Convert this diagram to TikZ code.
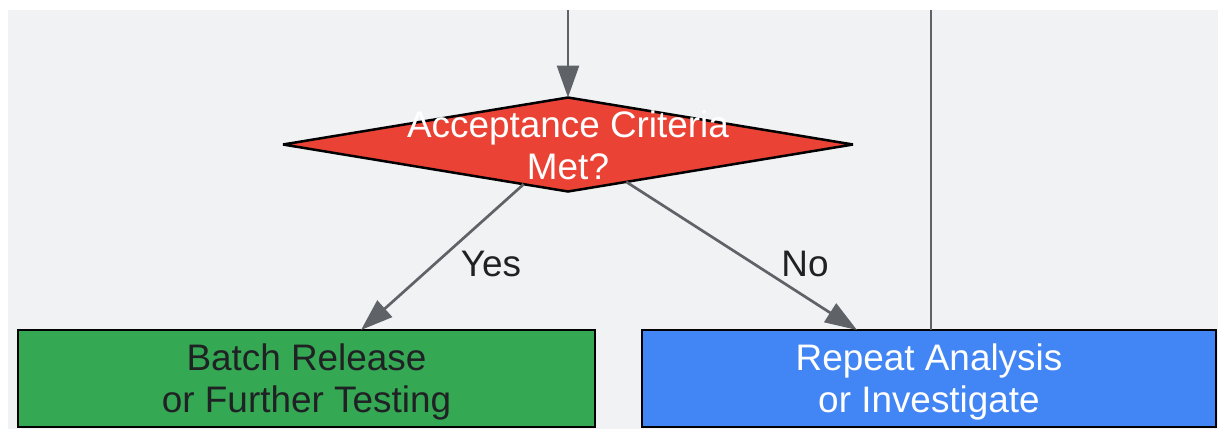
\documentclass[tikz,border=0pt]{standalone}
\usepackage{fontspec}
\setmainfont{Liberation Sans}
\usetikzlibrary{shapes.geometric,arrows.meta}
\definecolor{bgc}{HTML}{F1F2F4}
\definecolor{gred}{HTML}{EA4335}
\definecolor{ggreen}{HTML}{34A853}
\definecolor{gblue}{HTML}{4285F4}
\definecolor{lineg}{HTML}{5F6368}
\definecolor{ink}{HTML}{202124}
\begin{document}
\begin{tikzpicture}[x=1pt,y=-1pt,
  font=\fontsize{36.9}{42}\selectfont,
  boxnode/.style={rectangle, draw=black, line width=2.5pt, inner sep=0pt, outer sep=0pt,
    align=center, text depth=0pt, minimum height=97pt},
  arr/.style={color=lineg, line width=2.7pt, -{Triangle[length=32pt,width=22pt]}},
  plainline/.style={color=lineg, line width=2.7pt},
  lbl/.style={text=ink, inner sep=0pt}]
\useasboundingbox (0,0) rectangle (1218,429);
\fill[bgc] (8,10) rectangle (1218,429);
\node[boxnode, fill=ggreen, text=ink, minimum width=577pt] (g) at (306.5,378.5) {Batch Release\\or Further Testing};
\node[boxnode, fill=gblue, text=white, minimum width=574pt] (b) at (929,378.5) {Repeat Analysis\\or Investigate};
\node[diamond, draw=black, fill=gred, line width=2.5pt, inner sep=0pt, outer sep=0pt,
  miter limit=4, minimum width=570pt, minimum height=94pt] (d) at (568,144.5) {};
\node[text=white, align=center, inner sep=0pt, text depth=0pt] (dt) at (568,145.5) {Acceptance Criteria\\Met?};
\coordinate (s1) at (568,10);
\coordinate (s2) at (931,10);
\coordinate (ye) at (361,330);
\coordinate (ne) at (857,330);
\draw[arr] (s1) -- (d.north);
\draw[plainline] (s2) -- (s2 |- b.north);
\draw[arr] (d) -- (ye);
\draw[arr] (d) -- (ne);
\node[lbl] (yes) at (491,263.5) {Yes};
\node[lbl] (no) at (805,263.5) {No};
\end{tikzpicture}
\end{document}
